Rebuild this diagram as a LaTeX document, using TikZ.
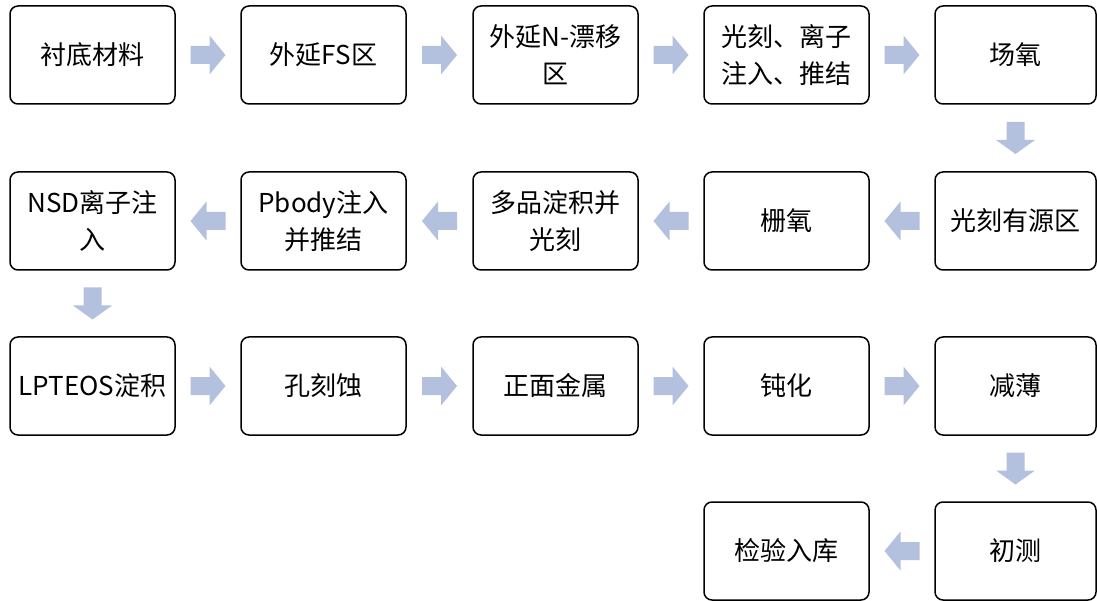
\documentclass[tikz,border=0pt]{standalone}
\usepackage{fontspec}
\setmainfont{Noto Sans CJK SC}
\usetikzlibrary{calc}
\definecolor{arrowfill}{RGB}{180,193,222}
\tikzset{
  procbox/.style={draw=black, line width=1.5pt, rounded corners=8pt, minimum width=165pt, minimum height=98pt, inner sep=0pt, align=center, font=\fontsize{26}{37}\selectfont, text=black},
  lastcol/.style={minimum width=161pt},
  harrow/.pic={\fill[arrowfill] (-17.5,-9) -- (1.5,-9) -- (1.5,-19.5) -- (17.5,0) -- (1.5,19.5) -- (1.5,9) -- (-17.5,9) -- cycle;},
  varrow/.pic={\fill[arrowfill] (-16,-9) -- (2,-9) -- (2,-19.5) -- (16,0) -- (2,19.5) -- (2,9) -- (-16,9) -- cycle;}
}
\begin{document}
\begin{tikzpicture}[x=1pt,y=1pt]
\useasboundingbox (0,0) rectangle (1097,-601);
% row 1
\node[procbox] (a1) at (92.5,-55) {衬底材料};
\node[procbox] (a2) at (323.5,-55) {外延FS区};
\node[procbox] (a3) at (555.5,-55) {外延N-漂移\\区};
\node[procbox] (a4) at (786.5,-55) {光刻、离子\\注入、推结};
\node[procbox,lastcol] (a5) at (1015.5,-55) {场氧};
% row 2
\node[procbox,lastcol] (b5) at (1015.5,-221) {光刻有源区};
\node[procbox] (b4) at (786.5,-221) {栅氧};
\node[procbox] (b3) at (555.5,-221) {多品淀积并\\光刻};
\node[procbox] (b2) at (323.5,-221) {Pbody注入\\并推结};
\node[procbox] (b1) at (92.5,-221) {NSD离子注\\入};
% row 3
\node[procbox] (c1) at (92.5,-386) {LPTEOS淀积};
\node[procbox] (c2) at (323.5,-386) {孔刻蚀};
\node[procbox] (c3) at (555.5,-386) {正面金属};
\node[procbox] (c4) at (786.5,-386) {钝化};
\node[procbox,lastcol] (c5) at (1015.5,-386) {减薄};
% row 4
\node[procbox,lastcol] (d5) at (1015.5,-551) {初测};
\node[procbox] (d4) at (786.5,-551) {检验入库};
% arrows row 1
\pic at ($(a1.east)!0.5!(a2.west)$) {harrow};
\pic at ($(a2.east)!0.5!(a3.west)$) {harrow};
\pic at ($(a3.east)!0.5!(a4.west)$) {harrow};
\pic at ($(a4.east)!0.5!(a5.west)$) {harrow};
\pic[rotate=-90] at ($(a5.south)!0.5!(b5.north)$) {varrow};
% arrows row 2
\pic[rotate=180] at ($(b5.west)!0.5!(b4.east)$) {harrow};
\pic[rotate=180] at ($(b4.west)!0.5!(b3.east)$) {harrow};
\pic[rotate=180] at ($(b3.west)!0.5!(b2.east)$) {harrow};
\pic[rotate=180] at ($(b2.west)!0.5!(b1.east)$) {harrow};
\pic[rotate=-90] at ($(b1.south)!0.5!(c1.north)$) {varrow};
% arrows row 3
\pic at ($(c1.east)!0.5!(c2.west)$) {harrow};
\pic at ($(c2.east)!0.5!(c3.west)$) {harrow};
\pic at ($(c3.east)!0.5!(c4.west)$) {harrow};
\pic at ($(c4.east)!0.5!(c5.west)$) {harrow};
\pic[rotate=-90] at ($(c5.south)!0.5!(d5.north)$) {varrow};
% arrows row 4
\pic[rotate=180] at ($(d5.west)!0.5!(d4.east)$) {harrow};
\end{tikzpicture}
\end{document}
